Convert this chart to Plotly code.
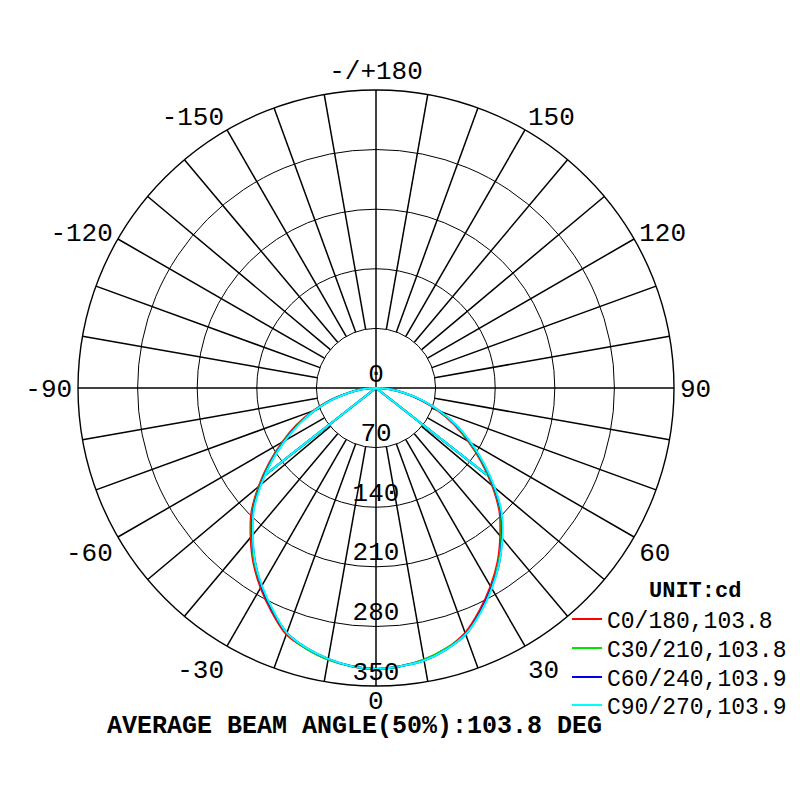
import plotly.graph_objects as go

# ---------------- data ----------------
gamma = [0, 5, 10, 15, 20, 25, 30, 35, 40, 45, 50, 55, 60, 65, 70, 75, 80, 85, 90]

series_names = ["C0/180,103.8", "C30/210,103.8", "C60/240,103.9", "C90/270,103.9"]
series_colors = ["#ff0000", "#00e600", "#0000e6", "#00ffff"]
beam_angles = [103.8, 103.8, 103.9, 103.9]

# intensity (cd) on the positive side (C0 / C30 / C60 / C90)
c0 = [330, 328, 324, 317, 306, 288, 269, 249, 227, 205, 178, 151, 125, 101, 77, 54, 33, 15, 0]
c30 = [330, 328, 324, 317, 308, 290, 271, 251, 229, 207, 180, 153, 127, 103, 79, 56, 33, 15, 0]
c60 = [330, 328, 325, 318, 308, 290, 271, 252, 230, 208, 181, 154, 128, 104, 80, 56, 34, 15, 0]
c90 = [330, 328, 325, 318, 308, 291, 272, 252, 231, 209, 182, 155, 129, 105, 80, 57, 34, 16, 0]
# intensity (cd) on the opposite side (C180 / C210 / C240 / C270)
c180 = [330, 328, 324, 317, 308, 290, 271, 251, 229, 207, 180, 153, 127, 103, 79, 56, 33, 15, 0]
c210 = [330, 328, 324, 317, 306, 288, 269, 249, 227, 205, 178, 151, 125, 101, 77, 54, 33, 15, 0]
c240 = [330, 328, 323, 316, 306, 288, 269, 248, 226, 204, 177, 150, 124, 100, 76, 54, 32, 15, 0]
c270 = [330, 328, 323, 316, 306, 287, 268, 248, 225, 203, 176, 149, 123, 99, 76, 53, 32, 14, 0]

pos_sides = [c0, c30, c60, c90]
neg_sides = [c180, c210, c240, c270]

ring_values = [0, 70, 140, 210, 280, 350]
angle_tickvals = [0, 30, 60, 90, 120, 150, 180, 210, 240, 270, 300, 330]
angle_ticktext = ["0", "30", "60", "90", "120", "150", "-/+180",
                  "-150", "-120", "-90", "-60", "-30"]
spoke_step = 10

FONT = "Liberation Mono"
W = H = 800
OFF = 8  # page offset of the plot div inside the browser page


def fx(xpage):
    return (xpage - OFF) / W


def fy(ypage):
    return (H - (ypage - OFF)) / H


fig = go.Figure()

# ---------------- grid spokes ----------------
rmax = ring_values[-1]
rin = ring_values[1]
sr, st = [], []
for a in range(0, 360, spoke_step):
    sr += [0 if a % 90 == 0 else rin, rmax, None]
    st += [a, a, None]
fig.add_trace(go.Scatterpolar(r=sr, theta=st, mode="lines",
                              line=dict(color="black", width=1.5),
                              showlegend=False, hoverinfo="skip"))

# ---------------- curves ----------------
legend_ids = ["legend", "legend2", "legend3", "legend4"]
for name, col, beam, pos, neg, lg in zip(series_names, series_colors, beam_angles,
                                         pos_sides, neg_sides, legend_ids):
    th = [-g for g in gamma[::-1]] + gamma[1:]
    rr = neg[::-1] + pos[1:]
    fig.add_trace(go.Scatterpolar(r=rr, theta=th, mode="lines", name=name,
                                  line=dict(color=col, width=2, shape="spline",
                                            smoothing=1),
                                  legend=lg, hoverinfo="skip"))
    half = beam / 2
    imax = pos[0]
    fig.add_trace(go.Scatterpolar(r=[imax / 2, 0, imax / 2],
                                  theta=[-half, 0, half], mode="lines",
                                  line=dict(color=col, width=2),
                                  showlegend=False, hoverinfo="skip"))

# ---------------- radial labels ----------------
fig.add_trace(go.Scatterpolar(r=ring_values, theta=[0] * len(ring_values),
                              mode="text", text=[str(v) for v in ring_values],
                              textposition="top center",
                              textfont=dict(family=FONT, size=26, color="black"),
                              showlegend=False, hoverinfo="skip"))
axis_ticktext = [""] + angle_ticktext[1:]  # bottom "0" label placed below

R = 298
cx, cy = 376, 388  # page coords of the pole
legend_rows = [619, 648, 677, 705]
legend_common = dict(xanchor="left", yanchor="middle", bgcolor="rgba(0,0,0,0)",
                     font=dict(family=FONT, size=23, color="black"))
legends = {}
for lg, yrow in zip(legend_ids, legend_rows):
    legends[lg] = dict(x=fx(567), y=fy(yrow), **legend_common)

fig.update_layout(
    width=W, height=H,
    margin=dict(l=0, r=0, t=0, b=0),
    paper_bgcolor="white",
    plot_bgcolor="white",
    font=dict(family=FONT, size=26, color="black"),
    polar=dict(
        domain=dict(x=[fx(cx - R), fx(cx + R)],
                    y=[fy(cy + R), fy(cy - R)]),
        bgcolor="white",
        angularaxis=dict(rotation=270, direction="counterclockwise",
                         tickmode="array", tickvals=angle_tickvals,
                         ticktext=axis_ticktext, showgrid=False,
                         showline=True, linecolor="black", linewidth=1.4,
                         ticks="", tickfont=dict(family=FONT, size=26, color="black")),
        radialaxis=dict(range=[0, rmax], tickmode="array",
                        tickvals=ring_values[1:], showticklabels=False,
                        showline=False, ticks="", gridcolor="black",
                        gridwidth=1.4),
    ),
    showlegend=True,
    annotations=[
        dict(text="UNIT:cd", x=fx(695), y=fy(591), xref="paper",
             yref="paper", showarrow=False, xanchor="center",
             yanchor="middle",
             font=dict(family=FONT, size=22, color="black", weight="bold")),
        dict(text=angle_ticktext[0], x=fx(cx), y=fy(702), xref="paper",
             yref="paper", showarrow=False, xanchor="center",
             yanchor="middle", height=22, borderpad=0,
             font=dict(family=FONT, size=26, color="black")),
    ],
    title=dict(text="AVERAGE BEAM ANGLE(50%):103.8 DEG",
               x=fx(354.5), y=fy(724), xanchor="center",
               yanchor="middle", xref="paper", yref="container",
               font=dict(family=FONT, size=25, color="black", weight="bold")),
    **legends,
)

fig.write_html("out.html")
